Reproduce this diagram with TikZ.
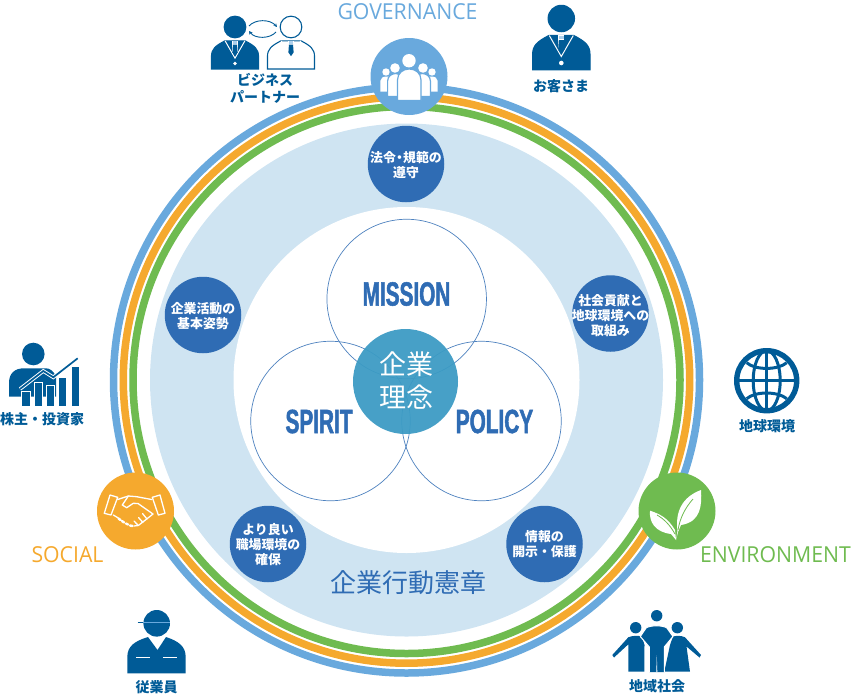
\documentclass[tikz,border=0pt]{standalone}
\usepackage{fontspec}
\usetikzlibrary{arrows.meta}
\setmainfont{Noto Sans CJK JP}
\newfontfamily\latinlabel[FakeStretch=0.965]{Open Sans}
\newfontfamily\dinlabel[FakeStretch=0.62,FakeBold=1.5]{Liberation Sans Bold}
\definecolor{navy}{HTML}{005B97}
\definecolor{skyring}{HTML}{69A9DD}
\definecolor{orangering}{HTML}{F5A92E}
\definecolor{greenring}{HTML}{6FBB50}
\definecolor{paleblue}{HTML}{CFE4F2}
\definecolor{royal}{HTML}{2F6CB4}
\definecolor{teal}{HTML}{3C9BC4}
\newcommand{\dotk}{\kern-.22em・\kern-.22em}
\tikzset{
  x=1pt,y=-1pt,
  badge/.style={circle,inner sep=0pt,minimum size=76.5pt,fill=royal},
  badgetext/.style={text=white,font=\fontsize{12.9}{15}\selectfont\bfseries,align=center,inner sep=0pt},
  hub/.style={circle,inner sep=0pt,minimum size=77pt},
  venn/.style={circle,inner sep=0pt,minimum size=159.5pt,draw=royal!85!white,line width=.7pt},
  who/.style={text=navy,font=\fontsize{14}{16.5}\selectfont\bfseries,align=center,inner sep=0pt},
  din/.style={text=royal,font=\dinlabel\fontsize{33.5}{33.5}\selectfont,inner sep=0pt},
  pillar/.style={font=\latinlabel\fontsize{22}{22}\selectfont,inner sep=0pt},
  ring/.style={circle,inner sep=0pt,line width=#1},
}
% person in suit: origin at head centre
\newcommand{\suitperson}[5]{% x y scale bodyfill linecolor
  \begin{scope}[shift={(#1,#2)},scale=#3]
    \draw[fill=#4,draw=navy,line width=1.1pt] (0,0) circle (13.2);
    \draw[fill=#4,draw=navy,line width=1.1pt] (-28.7,51.2) -- (-28.7,36) .. controls (-28.7,27) and (-24,23) .. (-12.5,17) -- (12.5,17)
       .. controls (24,23) and (28.7,27) .. (28.7,36) -- (28.7,51.2) -- cycle;
    \draw[white,line width=1pt] (-12,17) -- (0,38) -- (12,17);
    \fill[white] (-3.1,16.6) rectangle (3.1,31);
    \fill[#5] (-2.5,21.5) -- (2.5,21.5) -- (3.2,31) -- (0,35.5) -- (-3.2,31) -- cycle;
    \fill[skyring!55!white] (-2.5,17) rectangle (2.5,20.5);
    \fill[white] (0,44.5) circle (2.3);
    \ifx#4white\fill[navy] (0,44.5) circle (1.3);\fi
  \end{scope}}
\begin{document}
\begin{tikzpicture}
\useasboundingbox (0,0) rectangle (851,694);
\def\cx{406.5} \def\cy{380}
% rings
\node[ring=7.5pt,draw=skyring,minimum size=586pt] (ringblue) at (\cx,\cy) {};
\node[ring=7.5pt,draw=orangering,minimum size=566.4pt] (ringorange) at (\cx,\cy) {};
\node[ring=7.5pt,draw=greenring,minimum size=547pt] (ringgreen) at (\cx,\cy) {};
\node[circle,inner sep=0pt,minimum size=513pt,fill=paleblue] (actiondisc) at (\cx,\cy) {};
\node[circle,inner sep=0pt,minimum size=346pt,fill=white] (corewhite) at (\cx,\cy) {};
% hubs
\node[hub,fill=skyring] (gov) at (409,76.5) {};
\node[hub,fill=orangering] (soc) at (135.5,511) {};
\node[hub,fill=greenring] (env) at (677,511) {};
% venn
\node[venn] (mission) at (406.7,299) {};
\node[venn] (spirit) at (330.5,421) {};
\node[venn] (policy) at (481.5,421) {};
\node[circle,inner sep=0pt,minimum size=105pt,fill=teal,opacity=.94,text opacity=1] (core) at (405.5,381.5) {};
\node[text=white,font=\fontsize{27}{33}\selectfont,align=center,inner sep=0pt] (coretext) at (406,380.5) {企業\\理念};
\node[din] (tmission) at (406.5,294) {MISSION};
\node[din] (tspirit) at (319,421.5) {SPIRIT};
\node[din] (tpolicy) at (494.5,421.5) {POLICY};
% badges
\node[badge] (law) at (406,164) {};
\node[badge] (csr) at (610.5,313.5) {};
\node[badge] (base) at (203,315) {};
\node[badge] (work) at (268,544) {};
\node[badge] (info) at (544.5,544) {};
\node[badgetext] (lawtext) at (406,165) {法令\dotk 規範の\\遵守};
\node[badgetext] (csrtext) at (610.5,316) {社会貢献と\\地球環境への\\取組み};
\node[badgetext] (basetext) at (203,316) {企業活動の\\基本姿勢};
\node[badgetext] (worktext) at (268,545) {より良い\\職場環境の\\確保};
\node[badgetext] (infotext) at (544.5,544.5) {情報の\\開示・保護};
\node[text=royal,font=\fontsize{26}{26}\selectfont,inner sep=0pt] (charter) at (408,583) {企業行動憲章};
% pillar labels
\node[pillar,text=skyring] (tgov) at (407.5,12) {GOVERNANCE};
\node[pillar,text=orangering] (tsoc) at (67.5,555) {SOCIAL};
\node[pillar,text=greenring] (tenv) at (775.5,555) {ENVIRONMENT};
% stakeholder labels
\node[who] (partner) at (265,88.5) {ビジネス\\パートナー};
\node[who] (client) at (561,86) {お客さま};
\node[who] (investor) at (42,419) {株主・投資家};
\node[who] (earth) at (767,426) {地球環境};
\node[who] (local) at (657,686) {地域社会};
\node[who] (staff) at (156.5,687) {従業員};
% customer and partners
\suitperson{561.3}{18.5}{1}{navy}{navy}
\suitperson{235}{27}{.82}{navy}{navy}
\suitperson{291}{27}{.82}{white}{navy}
\draw[navy,line width=.9pt,-{Stealth[length=3.5pt,width=3.5pt]}] (249,26) .. controls (255,19) and (270,19) .. (277,27);
\draw[navy,line width=.9pt,-{Stealth[length=3.5pt,width=3.5pt]}] (276,32) .. controls (270,39) and (255,39) .. (249,31);
% crowd icon
\begin{scope}[white]
  \foreach \sx in {-1,1}{
    \fill ({409+\sx*23},72) circle (3.7);
    \fill ({409+\sx*28.7},91.5) -- ({409+\sx*28.7},81) .. controls ({409+\sx*28.7},78) and ({409+\sx*26},76.5) .. ({409+\sx*22},76.5) -- ({409+\sx*12},77) -- ({409+\sx*12},91.5) -- cycle;
    \fill ({409+\sx*14},68) circle (4.8);
    \draw[skyring,line width=1.2pt,fill=white] ({409+\sx*21.4},96.5) -- ({409+\sx*21.4},81) .. controls ({409+\sx*21.4},76) and ({409+\sx*17},73.5) .. ({409+\sx*13},73.5) -- ({409+\sx*8},75) -- ({409+\sx*8},96.5) -- cycle;
  }
  \fill (409,60.7) circle (6.7);
  \draw[skyring,line width=1.2pt,fill=white] (397.5,100.5) -- (397.5,80) .. controls (397.5,73) and (403,69) .. (409.3,69) .. controls (415.5,69) and (421,73) .. (421,80) -- (421,100.5) -- cycle;
\end{scope}
% handshake icon
\begin{scope}[white,line width=1.3pt,line join=round,line cap=round]
  \draw (110,495) -- (117.7,497.3) -- (111,515) -- (104.3,513.3) -- cycle;
  \draw (160,495) -- (152.3,497.3) -- (158.3,515) -- (165,513.3) -- cycle;
  \draw (117.7,499.5) -- (128.3,496) -- (136.7,496.7) -- (151.7,499.5);
  \draw (128.3,496) -- (122.3,505) -- (126.7,507.7) -- (133.3,503.3) -- (138,503.5) -- (153,514);
  \draw (113.3,515) -- (118.3,518) (153,514) -- (146.7,519);
  \draw[line width=2.4pt] (118.5,518.5) -- (120.5,520) (122,521) -- (124,522.5) (126,523.5) -- (128,524.5) (130,525.5) -- (132.5,526);
  \draw (134,526) -- (138.3,525.5) -- (146.7,519);
  \draw (138.3,525.5) -- (134,521) (143,522.5) -- (138.5,517.5) (147,519) -- (142.5,513.5);
\end{scope}
% leaves icon
\fill[white] (676,540) -- (675,530) .. controls (668,518) and (660,514) .. (650,510.7) .. controls (649,522) and (655,532) .. (671,534) -- cycle;
\fill[white] (676,540) -- (677.5,531) .. controls (675,512) and (682,497) .. (701,490) .. controls (702,505) and (701,522) .. (681,525) -- (678,532) -- cycle;
\draw[greenring,line width=.8pt] (657,515) .. controls (664,519) and (670,525) .. (675,534);
\draw[greenring,line width=.8pt] (678,530) .. controls (680,518) and (685,508) .. (693,499);
% investor icon
\fill[navy] (33.3,354) circle (11.3);
\fill[navy] (9,396.7) -- (9,383) .. controls (9,373) and (15,368.3) .. (24,368.3) -- (46,368.3) .. controls (50,368.3) and (53,371) .. (56,376) -- (56,396.7) -- cycle;
\foreach \l/\t/\r in {21.7/391/30, 34.3/382.7/42.3, 46/385/54.3, 58.3/377.3/66, 71/366.7/79}{
  \draw[white,line width=.8pt,fill=navy] (\l,405.5) -- (\l,\t) -- (\r,\t) -- (\r,405.5);
}
\draw[white,line width=3.6pt,line join=miter] (20,389) -- (43.3,371) -- (53.3,377.3) -- (77.7,358.3);
\draw[navy,line width=1.7pt,line join=miter] (20,389) -- (43.3,371) -- (53.3,377.3) -- (77.7,358.3);
% globe icon
\begin{scope}[navy,line width=3pt]
  \draw[line width=5.4pt] (766.7,380.7) circle (30);
  \draw (766.7,380.7) ellipse (13.5 and 30);
  \draw (766.7,350) -- (766.7,411.5);
  \draw (736,380.7) -- (797.5,380.7);
  \draw (746.7,362.7) .. controls (755,370.3) and (778,370.3) .. (786.7,362.7);
  \draw (746.7,398.7) .. controls (755,391.1) and (778,391.1) .. (786.7,398.7);
\end{scope}
% worker icon
\fill[navy] (156.7,623.3) circle (13.3);
\draw[skyring,line width=1.8pt] (143.4,622.5) -- (170,622.5);
\draw[navy,line width=1.8pt] (137.7,622.5) -- (143.4,622.5);
\fill[navy] (127.3,673.3) -- (127.3,657) .. controls (127.3,646) and (135,641) .. (148,637) -- (157.5,650) -- (166,637) .. controls (178,641) and (185.7,646) .. (185.7,657) -- (185.7,673.3) -- cycle;
\draw[white,line width=1pt] (136,657.3) -- (149.5,657.3) (163.3,657.3) -- (176.7,657.3);
% community icon
\fill[navy] (656.7,615.7) circle (5.7);
\fill[navy] (635.7,627.7) circle (5.7);
\fill[navy] (677.3,627.7) circle (5.7);
\fill[navy] (612.3,655) -- (628.3,637.3) .. controls (632,635.5) and (638,635.5) .. (642,636.5) -- (644.5,645) -- (644.3,671.7) -- (628.3,671.7) -- (628.3,644.3) -- (614,657.5) -- cycle;
\fill[navy] (701,655) -- (685,637.3) .. controls (681,635.5) and (677,635.5) .. (673,636.5) -- (670,645) -- (664.3,671.7) -- (690,671.7) -- (686.5,646.5) -- (699.5,657.5) -- cycle;
\draw[white,line width=1.1pt,fill=navy,line join=round] (649.3,672.2) -- (649.3,647) -- (640.3,636.5) -- (646,628) .. controls (650,625) and (663,625) .. (667,628) -- (673,636.5) -- (664.3,647) -- (664.3,672.2);
\fill[white] (656.3,672.2) -- (656.8,655) -- (657.3,672.2) -- cycle;
\end{tikzpicture}
\end{document}
